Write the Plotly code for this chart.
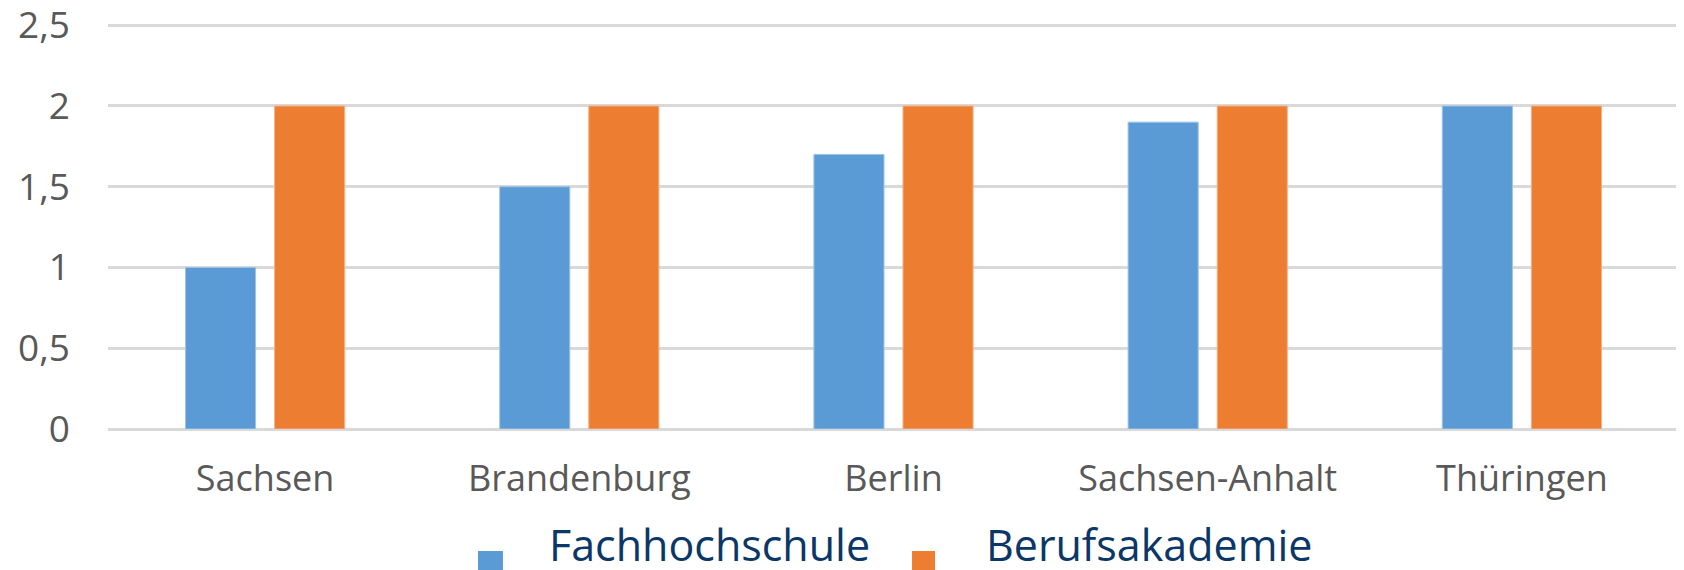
import plotly.graph_objects as go

categories = ["Sachsen", "Brandenburg", "Berlin", "Sachsen-Anhalt", "Thüringen"]
fachhochschule = [1, 1.5, 1.7, 1.9, 2]
berufsakademie = [2, 2, 2, 2, 2]
series_names = ["Fachhochschule", "Berufsakademie"]
y_ticks = [0, 0.5, 1, 1.5, 2, 2.5]

blue = "#5B9BD5"
orange = "#ED7D31"
colors = [blue, orange]

fig = go.Figure()
fig.add_trace(go.Bar(x=categories, y=fachhochschule, name=series_names[0],
                     marker=dict(color=blue, line=dict(color="#9DC3E6", width=1))))
fig.add_trace(go.Bar(x=categories, y=berufsakademie, name=series_names[1],
                     marker=dict(color=orange, line=dict(color="#F4B183", width=1))))

# manual legend (large squares + large text), positioned in paper coordinates
legend_sq_x = [(0.2355, 0.2514), (0.5118, 0.5264)]
legend_txt_x = [0.2794, 0.5576]
for i, name in enumerate(series_names):
    fig.add_shape(type="rect", xref="paper", yref="paper",
                  x0=legend_sq_x[i][0], x1=legend_sq_x[i][1], y0=-0.3612, y1=-0.2998,
                  fillcolor=colors[i], line=dict(width=0))
    fig.add_annotation(xref="paper", yref="paper", x=legend_txt_x[i], y=-0.283,
                       xanchor="left", yanchor="middle", showarrow=False, text=name,
                       font=dict(size=43, color="#0B3768", family="Open Sans"))

fig.update_layout(
    width=1676, height=562,
    margin=dict(l=100, r=5, t=14, b=141, autoexpand=False),
    paper_bgcolor="white", plot_bgcolor="white",
    separators=",.",
    showlegend=False,
    barmode="group", bargap=0.433, bargroupgap=0.213,
    font=dict(family="Open Sans", color="#595959"),
    xaxis=dict(showgrid=False, showline=False, zeroline=False,
               tickfont=dict(size=36, color="#595959"), ticklabelstandoff=25),
    yaxis=dict(range=[0, 2.52], tickvals=y_ticks, showgrid=True, gridcolor="#D9D9D9",
               gridwidth=3, zeroline=True, zerolinecolor="#D9D9D9", zerolinewidth=3,
               showline=False, tickfont=dict(size=37, color="#595959"),
               ticklabelstandoff=37, ticklabeloverflow="allow"),
)

fig.write_html("out.html")
